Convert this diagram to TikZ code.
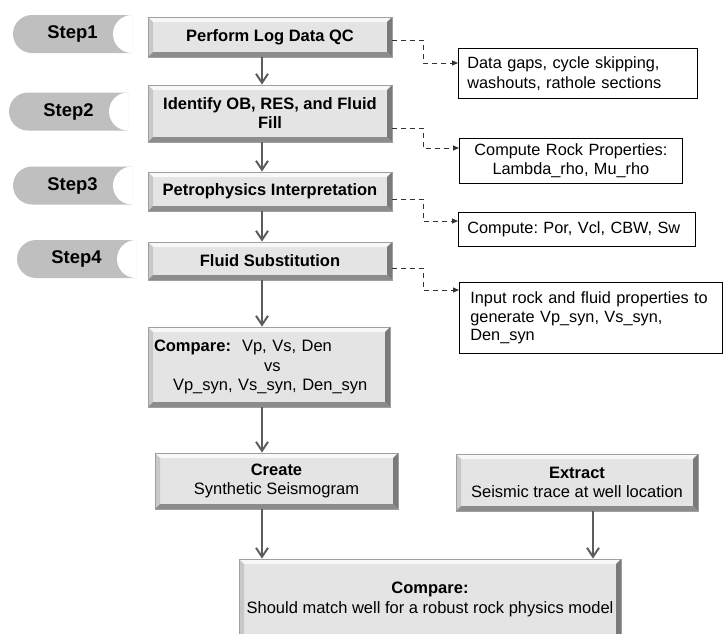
\documentclass[tikz,border=0pt]{standalone}
\usepackage{fontspec}
\setmainfont{Liberation Sans}
\usetikzlibrary{arrows.meta}
\frenchspacing

\definecolor{boxgray}{HTML}{E4E4E4}
\definecolor{pillgray}{HTML}{BFBFBF}
\definecolor{linegray}{HTML}{5C5C5C}
\definecolor{bevtop}{HTML}{F8F8F8}
\definecolor{bevleft}{HTML}{C8C8C8}
\definecolor{bevright}{HTML}{7A7A7A}
\definecolor{bevbot}{HTML}{8C8C8C}

\newcommand{\boxfont}{\fontsize{16.5}{19}\selectfont\bfseries}
\newcommand{\plainfont}{\fontsize{16.5}{19.5}\selectfont}
\newcommand{\notefont}{\fontsize{16.3}{19.5}\selectfont}
\newcommand{\pillfont}{\fontsize{18.4}{21}\selectfont\bfseries}

\newcommand{\bevelpic}{%
	\coordinate (bvnw) at (path picture bounding box.north west);
	\coordinate (bvne) at (path picture bounding box.north east);
	\coordinate (bvsw) at (path picture bounding box.south west);
	\coordinate (bvse) at (path picture bounding box.south east);
	\fill[bevtop] (bvnw) -- (bvne) -- ([shift={(-5pt,-5pt)}]bvne) -- ([shift={(5pt,-5pt)}]bvnw) -- cycle;
	\fill[bevleft] (bvnw) -- ([shift={(5pt,-5pt)}]bvnw) -- ([shift={(5pt,5pt)}]bvsw) -- (bvsw) -- cycle;
	\fill[bevright] (bvne) -- (bvse) -- ([shift={(-5pt,5pt)}]bvse) -- ([shift={(-5pt,-5pt)}]bvne) -- cycle;
	\fill[bevbot] (bvsw) -- ([shift={(5pt,5pt)}]bvsw) -- ([shift={(-5pt,5pt)}]bvse) -- (bvse) -- cycle;
}
\newcommand{\pillpic}{%
	\fill[pillgray,rounded corners=19pt] (path picture bounding box.north east) -- (path picture bounding box.north west)
		-- (path picture bounding box.south west) -- (path picture bounding box.south east);
	\fill[white] (path picture bounding box.east) circle[radius=19pt];
}

\begin{document}
\begin{tikzpicture}[x=1pt,y=-1pt,
	flow/.style={color=linegray,line width=2pt,-{Straight Barb[length=9pt,width=12pt]}},
	note link/.style={draw=black!80,line width=1pt,dash pattern=on 5pt off 4pt,-{Triangle[length=6pt,width=5pt]}},
	proc node/.style={draw=gray!75,line width=0.8pt,fill=boxgray,inner sep=4pt,align=center,font=\boxfont,path picture={\bevelpic}},
	step node/.style={minimum width=119pt,minimum height=38pt,inner sep=0pt,fill=white,font=\pillfont,path picture={\pillpic}},
	note node/.style={draw=black,line width=0.8pt,fill=white,inner xsep=9pt,inner ysep=2pt,anchor=north west,font=\notefont}]

	\useasboundingbox (0,0) rectangle (723,633);

	\node[step node] (s1) at (72.5,34) {Step1};
	\node[step node] (s2) at (68.5,111.5) {Step2};
	\node[step node] (s3) at (72.5,185.5) {Step3};
	\node[step node] (s4) at (76.5,259) {Step4};

	\node[proc node,minimum width=244pt,minimum height=40pt] (qc) at (270,37) {Perform Log Data QC};
	\node[proc node,minimum width=244pt,minimum height=57pt] (ident) at (270,113.5) {Identify OB, RES, and Fluid\\Fill};
	\node[proc node,minimum width=244pt,minimum height=39pt] (petro) at (270,191.5) {Petrophysics Interpretation};
	\node[proc node,minimum width=244pt,minimum height=38pt] (fsub) at (270,261) {Fluid Substitution};
	\node[proc node,minimum width=242pt,minimum height=80pt,text width=230pt,inner xsep=6pt,align=left,font=\plainfont] (cmp) at (269,367)
		{\textbf{Compare:}\ \ Vp, Vs, Den\\\hspace*{110pt}vs\\\hspace*{19pt}Vp\_syn, Vs\_syn, Den\_syn};
	\node[proc node,minimum width=243pt,minimum height=56pt,font=\plainfont] (synth) at (276.5,481) {\textbf{Create}\\Synthetic Seismogram};
	\node[proc node,minimum width=242pt,minimum height=57pt,font=\plainfont] (extr) at (577,482.5) {\textbf{Extract}\\Seismic trace at well location};
	\node[proc node,minimum width=382pt,minimum height=81pt,font=\plainfont] (final) at (430,599.5)
		{\textbf{Compare:}\\Should match well for a robust rock physics model};

	\node[note node,text width=221pt,minimum height=50pt,align=left] (note1) at (458,48) {Data gaps, cycle skipping,\\washouts, rathole sections};
	\node[note node,text width=205pt,minimum height=45pt,align=center] (note2) at (459,138) {Compute Rock Properties:\\Lambda\_rho, Mu\_rho};
	\node[note node,text width=219pt,minimum height=34pt,align=left] (note3) at (458,212) {Compute: Por, Vcl, CBW, Sw};
	\node[note node,text width=241pt,inner xsep=11pt,minimum height=71pt,align=left,font=\fontsize{16.3}{18.5}\selectfont] (note4) at (459,282)
		{Input rock and fluid properties to\\generate Vp\_syn, Vs\_syn,\\Den\_syn};

	\coordinate (spine) at (262,0);
	\coordinate (trace) at (593,0);
	\path[flow]
		(qc.south -| spine) edge (ident.north -| spine)
		(ident.south -| spine) edge (petro.north -| spine)
		(petro.south -| spine) edge (fsub.north -| spine)
		(fsub.south -| spine) edge (cmp.north -| spine)
		(cmp.south -| spine) edge (synth.north -| spine)
		(synth.south -| spine) edge (final.north -| spine)
		(extr.south -| trace) edge (final.north -| trace);

	\draw[note link] ([yshift=-3pt]qc.east) -- ++(31,0) |- ([yshift=-15pt]note1.north west);
	\draw[note link] ([yshift=-14.5pt]ident.east) -- ++(31,0) |- ([yshift=-10pt]note2.north west);
	\draw[note link] ([yshift=-7.5pt]petro.east) -- ++(31,0) |- ([yshift=-9pt]note3.north west);
	\draw[note link] ([yshift=-7pt]fsub.east) -- ++(31,0) |- ([yshift=-8pt]note4.north west);
\end{tikzpicture}
\end{document}
